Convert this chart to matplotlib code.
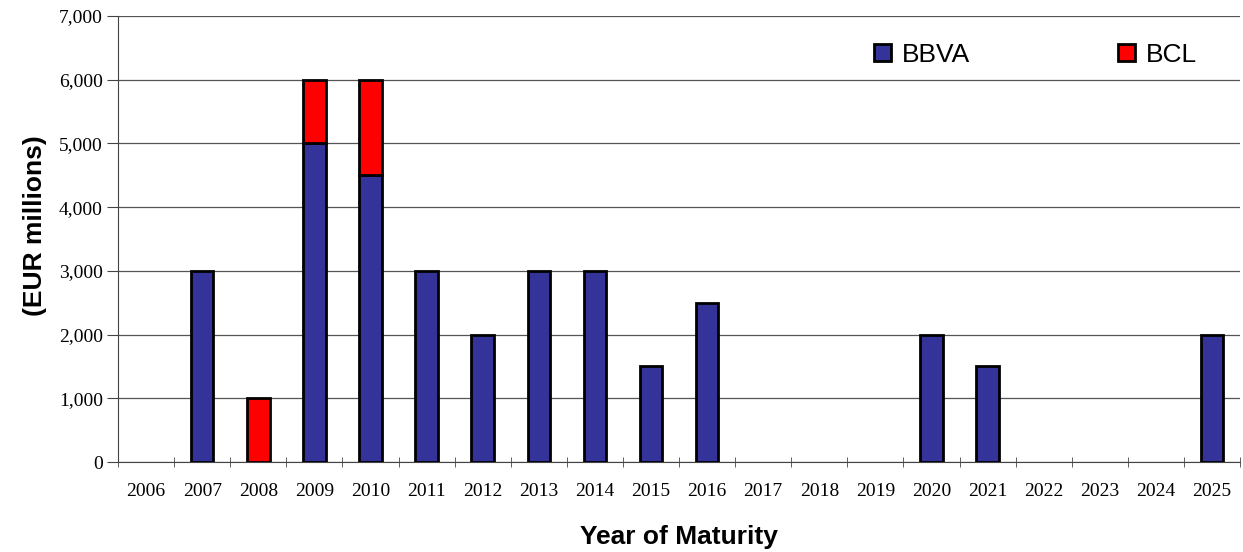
import numpy as np
import matplotlib.pyplot as plt
from matplotlib.patches import Patch
from matplotlib.ticker import FuncFormatter, MultipleLocator

years = [str(y) for y in range(2006, 2026)]
bbva = [0, 3000, 0, 5000, 4500, 3000, 2000, 3000, 3000, 1500,
        2500, 0, 0, 0, 2000, 1500, 0, 0, 0, 2000]
bcl = [0, 0, 1000, 1000, 1500, 0, 0, 0, 0, 0,
       0, 0, 0, 0, 0, 0, 0, 0, 0, 0]

blue = '#333399'
red = '#ff0000'

fig = plt.figure(figsize=(12.43, 5.52), dpi=100)
ax = fig.add_axes([0.095, 0.163, 0.9026, 0.808])

x = np.arange(len(years))
bbva = np.array(bbva)
bcl = np.array(bcl)
m1 = bbva > 0
ax.bar(x[m1], bbva[m1], width=0.4, color=blue, edgecolor='black', linewidth=2, zorder=3)
m2 = bcl > 0
ax.bar(x[m2], bcl[m2], width=0.4, bottom=bbva[m2], color=red, edgecolor='black', linewidth=2, zorder=3)

ax.set_xlim(-0.5, len(years) - 0.5)
ax.set_ylim(0, 7000)
ax.yaxis.set_major_locator(MultipleLocator(1000))
ax.yaxis.set_major_formatter(FuncFormatter(lambda v, p: f'{int(v):,}'))
ax.grid(axis='y', color='#555555', linewidth=0.9, zorder=0)

ax.set_xticks(x)
ax.set_xticklabels(years)
ax.set_xticks(np.arange(-0.5, len(years), 1.0), minor=True)
ax.tick_params(axis='x', which='major', length=0, pad=15)
ax.tick_params(axis='x', which='minor', direction='inout', length=7, color='#444444')
ax.tick_params(axis='y', length=8, color='#444444', pad=3)
for lab in ax.get_xticklabels() + ax.get_yticklabels():
    lab.set_fontfamily('Liberation Serif')
    lab.set_fontsize(14)

for s in ['top', 'right']:
    ax.spines[s].set_visible(False)
for s in ['left', 'bottom']:
    ax.spines[s].set_color('#444444')

ax.set_ylabel('(EUR millions)', fontsize=19, fontweight='bold', family='Liberation Sans')
ax.yaxis.set_label_coords(-0.063, 0.531)
ax.set_xlabel('Year of Maturity', fontsize=19, fontweight='bold', family='Liberation Sans', labelpad=18)

handles = [Patch(facecolor=blue, edgecolor='black', linewidth=2),
           Patch(facecolor=red, edgecolor='black', linewidth=2)]
ax.legend(handles, ['BBVA', 'BCL'], ncol=2, frameon=False, loc='center right',
          bbox_to_anchor=(0.973, 0.913), borderpad=0, columnspacing=5.6,
          handlelength=0.65, handleheight=0.65, handletextpad=0.4,
          prop={'family': 'Liberation Sans', 'size': 19})

fig.savefig('out.png', dpi=100)
